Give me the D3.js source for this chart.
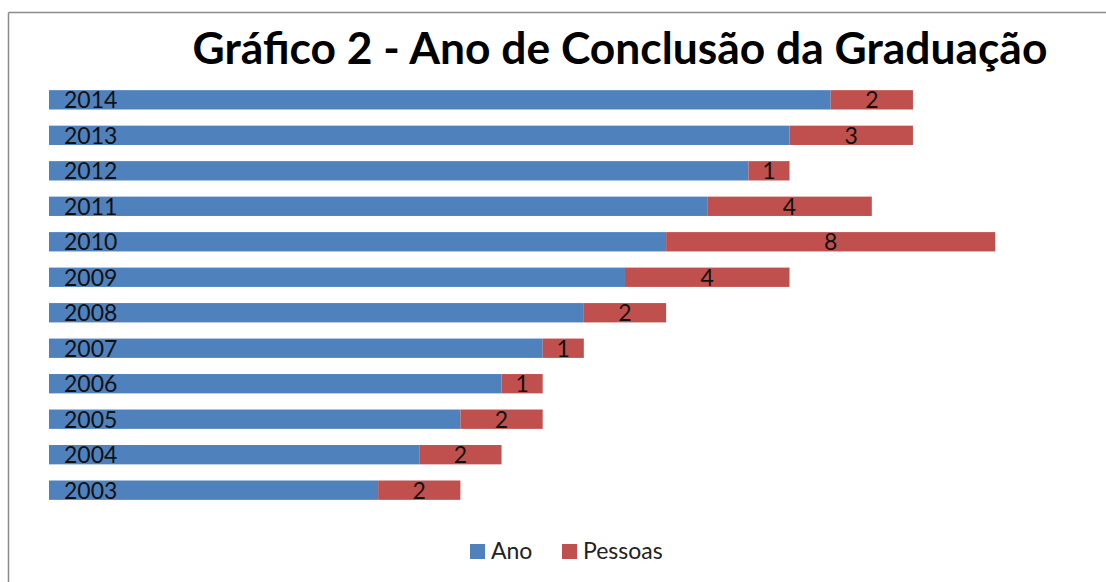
<!DOCTYPE html>
<html>
<head>
<meta charset="utf-8">
<script src="https://cdn.jsdelivr.net/npm/d3@7"></script>
<style>
  html, body { margin: 0; padding: 0; background: #fff; }
  svg { display: block; }
  text { font-family: Lato, "Open Sans", sans-serif; }
</style>
</head>
<body>
<svg id="chart" width="1106" height="582"></svg>
<script>
const categories = ["2003","2004","2005","2006","2007","2008","2009","2010","2011","2012","2013","2014"];
const anoValues = [2003,2004,2005,2006,2007,2008,2009,2010,2011,2012,2013,2014];
const pessoasValues = [2,2,2,1,1,2,4,8,4,1,3,2];
const seriesNames = ["Ano","Pessoas"];
const seriesColors = ["#4F81BD","#C0504D"];
const titleText = "Gráfico 2 - Ano de Conclusão da Graduação";
const axisMin = 1995, axisMax = 2020;

const svg = d3.select("#chart");

// chart border (top & left visible)
svg.append("line").attr("x1", 8.5).attr("x2", 1106).attr("y1", 12.5).attr("y2", 12.5)
  .attr("stroke", "#8c8c8c").attr("stroke-width", 1.5);
svg.append("line").attr("x1", 8.5).attr("x2", 8.5).attr("y1", 12.5).attr("y2", 582)
  .attr("stroke", "#8c8c8c").attr("stroke-width", 1.5);

// title
const title = svg.append("text").attr("x", 620).attr("y", 64)
  .attr("text-anchor", "middle").attr("font-weight", "bold")
  .attr("font-size", 43).attr("fill", "#000").text(titleText);
const tw = title.node().getComputedTextLength();
title.attr("font-size", 43 * 855 / tw);

const x = d3.scaleLinear().domain([axisMin, axisMax]).range([49, 49 + 25 * 41.14]);
const y = d3.scaleBand().domain(categories.slice().reverse()).range([82, 508]).paddingInner(0.455).paddingOuter(0.23);

const rows = categories.map((c, i) => ({ cat: c, ano: anoValues[i], pes: pessoasValues[i] }));

const g = svg.append("g");
// Ano bars
g.selectAll("rect.ano").data(rows).join("rect").attr("class", "ano")
  .attr("x", x(axisMin)).attr("y", d => y(d.cat))
  .attr("width", d => x(d.ano) - x(axisMin)).attr("height", y.bandwidth())
  .attr("fill", seriesColors[0]);
// Pessoas bars
g.selectAll("rect.pes").data(rows).join("rect").attr("class", "pes")
  .attr("x", d => x(d.ano)).attr("y", d => y(d.cat))
  .attr("width", d => x(d.ano + d.pes) - x(d.ano)).attr("height", y.bandwidth())
  .attr("fill", seriesColors[1]);

// Year labels
g.selectAll("text.ano").data(rows).join("text").attr("class", "ano")
  .attr("x", 64).attr("y", d => y(d.cat) + y.bandwidth() / 2 + 8.5)
  .attr("font-size", 23).attr("fill", "#111").text(d => d.cat);
// Pessoas labels
g.selectAll("text.pes").data(rows).join("text").attr("class", "pes")
  .attr("x", d => (x(d.ano) + x(d.ano + d.pes)) / 2)
  .attr("y", d => y(d.cat) + y.bandwidth() / 2 + 8.5)
  .attr("text-anchor", "middle").attr("font-size", 23).attr("fill", "#111").text(d => d.pes);

// legend
const legendItems = [{ name: seriesNames[0], color: seriesColors[0], x: 470, tx: 491 },
                     { name: seriesNames[1], color: seriesColors[1], x: 562, tx: 583 }];
const lg = svg.append("g");
lg.selectAll("rect").data(legendItems).join("rect")
  .attr("x", d => d.x).attr("y", 544).attr("width", 15).attr("height", 15).attr("fill", d => d.color);
lg.selectAll("text").data(legendItems).join("text")
  .attr("x", d => d.tx).attr("y", 559).attr("font-size", 23).attr("fill", "#222").text(d => d.name);
</script>
</body>
</html>
